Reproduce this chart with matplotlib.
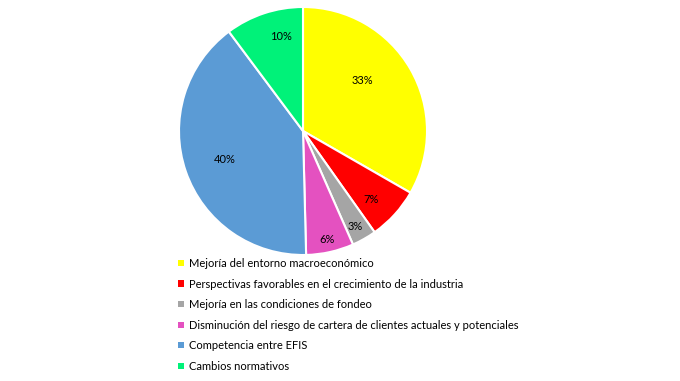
import matplotlib.pyplot as plt
from matplotlib.patches import Patch
import numpy as np

# Datos
categorias = [
    'Mejoría del entorno macroeconómico',
    'Perspectivas favorables en el crecimiento de la industria',
    'Mejoría en las condiciones de fondeo',
    'Disminución del riesgo de cartera de clientes actuales y potenciales',
    'Competencia entre EFIS',
    'Cambios normativos',
]
valores = [33.3, 6.9, 3.2, 6.2, 40.2, 10.2]
colores = ['#FFFF00', '#FF0000', '#A5A5A5', '#E451C0', '#5B9BD5', '#00F279']
# posicion de cada etiqueta: distancia (fraccion del radio) y giro en grados
dist_etiquetas = [0.63, 0.78, 0.88, 0.90, 0.67, 0.78]
giro_etiquetas = [10, -3, -1, 0, 1, -5]

plt.rcParams['font.family'] = ['Lato', 'DejaVu Sans']

fig = plt.figure(figsize=(6.8, 3.81), dpi=100)
W, H = 680, 381
cx, cy, r = 303, 131, 124
ax = fig.add_axes([(cx - r) / W, 1 - (cy + r) / H, 2 * r / W, 2 * r / H])

wedges, texts, autotexts = ax.pie(
    valores, colors=colores, startangle=90, counterclock=False,
    autopct='%.0f%%', radius=1,
    wedgeprops=dict(edgecolor='white', linewidth=1.5),
    textprops=dict(fontsize=8, color='black'))

# reubicar etiquetas de porcentaje
for w, t, d, g in zip(wedges, autotexts, dist_etiquetas, giro_etiquetas):
    ang = np.deg2rad((w.theta1 + w.theta2) / 2 + g)
    t.set_position((d * np.cos(ang), d * np.sin(ang)))

ax.set_xlim(-1, 1)
ax.set_ylim(-1, 1)
ax.set_aspect('equal')
ax.axis('off')

handles = [Patch(facecolor=c, edgecolor='none') for c in colores]
fig.legend(handles, categorias, loc='upper left',
           bbox_to_anchor=(178 / W, 1 - 258 / H), frameon=False,
           fontsize=8, handlelength=0.5, handleheight=0.5,
           handletextpad=0.5, labelspacing=0.86, borderaxespad=0,
           borderpad=0)

fig.savefig('out.png', dpi=100)
